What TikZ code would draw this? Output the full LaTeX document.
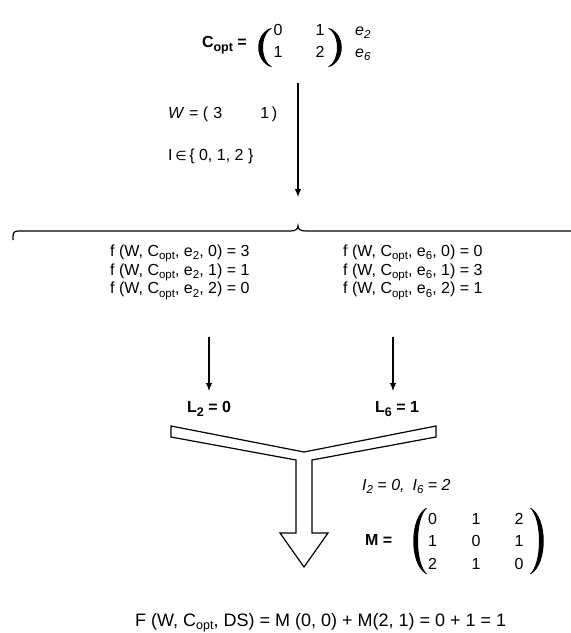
\documentclass[tikz,border=0pt]{standalone}
\usepackage{fontspec}
\setmainfont{Liberation Sans}
\newfontfamily\dejavu{DejaVu Sans}
\usetikzlibrary{arrows.meta}
\newcommand{\mysub}[1]{\raisebox{-3.5pt}{\fontsize{11.5}{12}\selectfont #1}}
\newcommand{\mybsub}[1]{\raisebox{-4pt}{\fontsize{12.5}{13}\selectfont #1}}
\begin{document}
\begin{tikzpicture}[x=1pt,y=-1pt,
  txt/.style={inner sep=0pt,anchor=base west,font=\fontsize{16}{19}\selectfont},
  txtc/.style={inner sep=0pt,anchor=base,font=\fontsize{16}{19}\selectfont},
  arr/.style={line width=1.1pt,-{Latex[length=8pt,width=6.5pt]}},
  paren/.style={fill=black,draw=none},
  yshape/.style={line width=1.2pt,draw=black,fill=white,line join=miter}]
\useasboundingbox (0,0) rectangle (571,633);
% C_opt matrix
\node[txt,anchor=base east,font=\fontsize{16}{19}\selectfont\bfseries] (copt) at (247,47) {C\mybsub{opt} =};
\fill[paren] (271,28) .. controls (254,34) and (254,61) .. (271,67) -- (272,67) .. controls (260,60) and (260,35) .. (272,28) -- cycle;
\fill[paren] (329,28) .. controls (346,34) and (346,61) .. (329,67) -- (328,67) .. controls (340,60) and (340,35) .. (328,28) -- cycle;
\node[txtc] (c11) at (278,35) {0};
\node[txtc] (c12) at (320,35) {1};
\node[txtc] (c21) at (278,57) {1};
\node[txtc] (c22) at (320,57) {2};
\node[txt] (e2) at (355,35) {\textit{e\mysub{2}}};
\node[txt] (e6) at (355,57) {\textit{e\mysub{6}}};
% W and I
\node[txt] (w) at (168,118) {\textit{W} = (\,\,3\hspace{38pt}1\,)};
\node[txt] (iset) at (168,160) {I\,{\dejavu\fontsize{13}{13}\selectfont ∈}\,\{ 0, 1, 2 \}};
% main arrow
\coordinate (a0) at (298,83);
\coordinate (a1) at (298,197);
\draw[arr] (a0) -- (a1);
% brace
\draw[line width=1.2pt] (13,240) -- (13,236) .. controls (13,232) and (15,231) .. (19,231) -- (290,231) .. controls (296,231) and (298,229) .. (298,226) .. controls (298,229) and (300,231) .. (306,231) -- (580,231);
% f lines
\node[txt] (fa) at (110,256) {f (W, C\mysub{opt}, e\mysub{2}, 0) = 3};
\node[txt] (fb) at (110,275) {f (W, C\mysub{opt}, e\mysub{2}, 1) = 1};
\node[txt] (fc) at (110,293.5) {f (W, C\mysub{opt}, e\mysub{2}, 2) = 0};
\node[txt] (ga) at (343,256) {f (W, C\mysub{opt}, e\mysub{6}, 0) = 0};
\node[txt] (gb) at (343,275) {f (W, C\mysub{opt}, e\mysub{6}, 1) = 3};
\node[txt] (gc) at (343,293.5) {f (W, C\mysub{opt}, e\mysub{6}, 2) = 1};
% L nodes
\node[txt,font=\fontsize{16}{19}\selectfont\bfseries] (l2) at (187,412) {L\mybsub{2} = 0};
\node[txt,font=\fontsize{16}{19}\selectfont\bfseries] (l6) at (375,412) {L\mybsub{6} = 1};
\coordinate (la0) at (209,337);
\coordinate (la1) at (209,391);
\coordinate (ra0) at (393,337);
\coordinate (ra1) at (393,391);
\draw[arr] (la0) -- (la1);
\draw[arr] (ra0) -- (ra1);
% Y shaped hollow arrow
\draw[yshape] (171,426) -- (304,452) -- (436,426) -- (436,437) -- (312,460) -- (312,533) -- (328,533) -- (304,567) -- (280,533) -- (296,533) -- (296,460) -- (171,437) -- cycle;
% I values
\node[txt] (ivals) at (362,490) {\textit{I\mysub{2} = 0,\hspace{8pt}I\mysub{6} = 2}};
% M matrix
\node[txt,font=\fontsize{16}{19}\selectfont\bfseries] (mlab) at (365,545) {M =};
\fill[paren] (426,508) .. controls (409,518) and (409,564) .. (426,574) -- (427,574) .. controls (415,563) and (415,519) .. (427,508) -- cycle;
\fill[paren] (531,508) .. controls (548,518) and (548,564) .. (531,574) -- (530,574) .. controls (542,563) and (542,519) .. (530,508) -- cycle;
\node[txtc] (m11) at (432.5,524) {0};
\node[txtc] (m12) at (476,524) {1};
\node[txtc] (m13) at (519,524) {2};
\node[txtc] (m21) at (432.5,546.5) {1};
\node[txtc] (m22) at (476,546.5) {0};
\node[txtc] (m23) at (519,546.5) {1};
\node[txtc] (m31) at (432.5,569) {2};
\node[txtc] (m32) at (476,569) {1};
\node[txtc] (m33) at (519,569) {0};
% bottom formula
\node[txt,font=\fontsize{18}{20}\selectfont] (F) at (135,626.5) {F (W, C\raisebox{-3pt}{\fontsize{12.5}{13}\selectfont opt}, DS) = M (0, 0) + M(2, 1) = 0 + 1 = 1};
\end{tikzpicture}
\end{document}
